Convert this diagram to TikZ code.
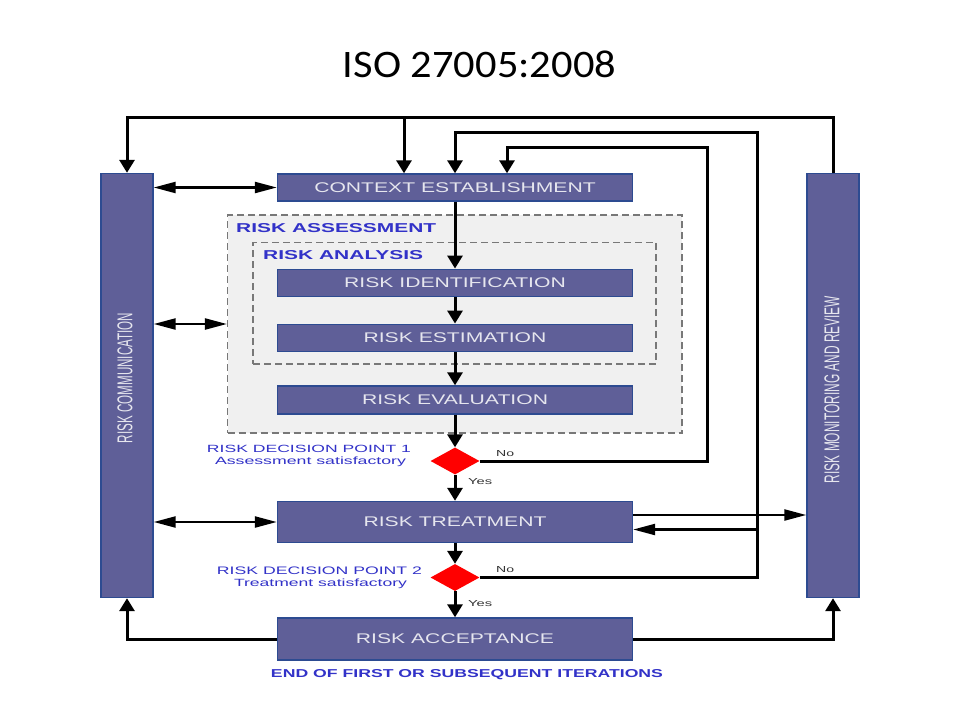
\documentclass[tikz,border=0pt]{standalone}
\usepackage{fontspec}
\setmainfont{Liberation Sans}
\newfontfamily\titlefont{Carlito}
\usetikzlibrary{arrows.meta,shapes.geometric}
\definecolor{boxfill}{RGB}{95,95,152}
\definecolor{boxedge}{RGB}{45,75,145}
\definecolor{boxtext}{RGB}{230,230,238}
\definecolor{lblue}{RGB}{50,50,200}
\definecolor{regfill}{RGB}{240,240,240}
\definecolor{regedge}{RGB}{120,120,120}
\newcommand\bx[1]{\scalebox{1.51}[1]{\fontsize{14}{14}\selectfont #1}}
\newcommand\fitbox[3]{\resizebox{#1pt}{#2pt}{#3}}
\begin{document}
\begin{tikzpicture}[x=1pt,y=-1pt,
  procbox/.style={draw=boxedge,fill=boxfill,line width=1.4pt,minimum width=355pt,inner sep=0pt,text=boxtext},
  sidebar/.style={draw=boxedge,fill=boxfill,line width=1.4pt,minimum width=52pt,minimum height=424pt,inner sep=0pt},
  decision/.style={diamond,fill=red,minimum width=49pt,minimum height=27pt,inner sep=0pt},
  region/.style={draw=regedge,dashed,dash pattern=on 7pt off 4pt,line width=1.2pt,fill=regfill,inner sep=0pt},
  varr/.style={line width=3pt,-{Triangle[length=13pt,width=15pt]}},
  looparr/.style={line width=3pt,-{Triangle[length=13pt,width=15pt]}},
  harr/.style={line width=2.3pt,{Triangle[length=22pt,width=11pt]}-{Triangle[length=22pt,width=11pt]}},
  sarr/.style={line width=2.3pt,-{Triangle[length=22pt,width=11pt]}},
  bluelbl/.style={text=lblue,inner sep=0pt},
  smalllbl/.style={text=black!80,inner sep=0pt},
  bartext/.style={text=boxtext,inner sep=0pt,rotate=90}
]
\useasboundingbox (0,0) rectangle (960,720);
\fill[white] (0,0) rectangle (960,720);

% title
\node (title) at (479.5,64) {\titlefont\fitbox{273}{26.6}{ISO 27005:2008}};

% regions
\node[region,minimum width=454.5pt,minimum height=218pt] (assess) at (454.75,324) {};
\node[region,minimum width=403pt,minimum height=121.5pt] (analysis) at (454.5,303.25) {};
\node[bluelbl,anchor=base west] (lassess) at (236,232) {\fitbox{200}{9}{\bfseries RISK ASSESSMENT}};
\node[bluelbl,anchor=base west] (lanalysis) at (263,259) {\fitbox{160}{9}{\bfseries RISK ANALYSIS}};

% side bars
\node[sidebar] (comm) at (127,385.5) {};
\node[sidebar] (mon) at (833,385.5) {};
\node[bartext] (commtxt) at (125,378) {\fitbox{130}{15}{RISK COMMUNICATION}};
\node[bartext] (montxt) at (832,389.5) {\fitbox{187}{15}{RISK MONITORING AND REVIEW}};

% process boxes
\node[procbox,minimum height=27pt] (ctx) at (455,187.5) {\bx{CONTEXT ESTABLISHMENT}};
\node[procbox,minimum height=27.5pt] (ident) at (455,283) {\bx{RISK IDENTIFICATION}};
\node[procbox,minimum height=27.5pt] (estim) at (455,338) {\bx{RISK ESTIMATION}};
\node[procbox,minimum height=28pt] (evalu) at (455,400) {\bx{RISK EVALUATION}};
\node[procbox,minimum height=41pt] (treat) at (455,522) {\bx{RISK TREATMENT}};
\node[procbox,minimum height=42pt] (accept) at (455,639) {\bx{RISK ACCEPTANCE}};

% decisions
\node[decision] (d1) at (455,461) {};
\node[decision] (d2) at (455,577.5) {};

% decision labels
\node[bluelbl,anchor=base] (dp1) at (309,452) {\fitbox{204}{7.3}{RISK DECISION POINT 1}};
\node[bluelbl,anchor=base] (dp1b) at (310.5,464.3) {\fitbox{191}{7.6}{Assessment satisfactory}};
\node[bluelbl,anchor=base] (dp2) at (319.5,574.3) {\fitbox{205}{7.6}{RISK DECISION POINT 2}};
\node[bluelbl,anchor=base] (dp2b) at (320.5,586.7) {\fitbox{173}{7.6}{Treatment satisfactory}};
\node[smalllbl,anchor=base west] (no1) at (496,456) {\fitbox{18}{6}{No}};
\node[smalllbl,anchor=base west] (yes1) at (468,484) {\fitbox{24}{6}{Yes}};
\node[smalllbl,anchor=base west] (no2) at (496,572) {\fitbox{18}{6}{No}};
\node[smalllbl,anchor=base west] (yes2) at (468,606) {\fitbox{24}{6}{Yes}};
\node[bluelbl,anchor=base] (endtxt) at (467,677) {\fitbox{392}{8}{\bfseries END OF FIRST OR SUBSEQUENT ITERATIONS}};

% main chain
\draw[varr] (ctx.south) -- (ident.north);
\draw[varr] (ident.south) -- (estim.north);
\draw[varr] (estim.south) -- (evalu.north);
\draw[varr] (evalu.south) -- (d1.north);
\draw[varr] (d1.south) -- (treat.north);
\draw[varr] (treat.south) -- (d2.north);
\draw[varr] (d2.south) -- (accept.north);

% top loop from monitoring
\draw[looparr] (mon.north) -- ++(0,-55.5) -| (comm.north);
\coordinate (j1) at (404,118);
\draw[varr] (j1) -- (j1 |- ctx.north);

% loop from decision 2
\coordinate (c2) at (757,132.5);
\draw[looparr] (d2.east) -| (c2) -| (ctx.north);
\coordinate (t2) at ([yshift=-7.5pt]treat.east);
\coordinate (b2) at (c2 |- t2);
\draw[sarr] (b2) -- (t2);

% loop from decision 1
\coordinate (c1) at (707,147);
\coordinate (c1e) at (507,147);
\draw[looparr] (d1.east) -| (c1) -- (c1e) -- (c1e |- ctx.north);

% treatment to monitoring
\coordinate (t1) at ([yshift=7pt]treat.east);
\draw[sarr] (t1) -- (t1 -| mon.west);

% acceptance to bars
\draw[varr] (accept.east) -| (mon.south);
\draw[varr] (accept.west) -| (comm.south);

% communication double arrows
\draw[harr] (ctx.west -| comm.east) -- (ctx.west);
\draw[harr] (assess.west -| comm.east) -- (assess.west);
\draw[harr] (treat.west -| comm.east) -- (treat.west);
\end{tikzpicture}
\end{document}
